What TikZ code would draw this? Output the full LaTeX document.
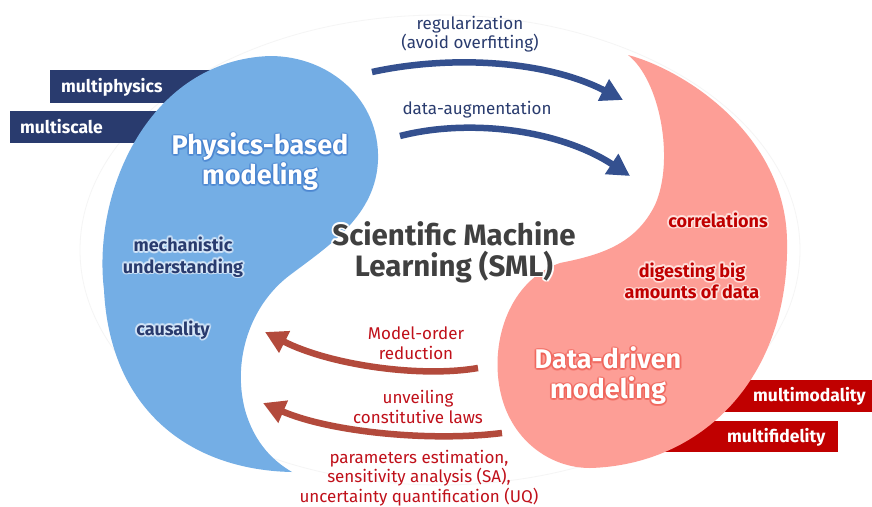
\documentclass[tikz,border=0pt]{standalone}
\usepackage{fontspec}
\setmainfont{Fira Sans}
\usetikzlibrary{arrows.meta,calc}
\definecolor{navy}{HTML}{293B6E}
\definecolor{blueshape}{HTML}{74AEE5}
\definecolor{redshape}{HTML}{FD9E96}
\definecolor{boxred}{HTML}{C00000}
\definecolor{arrblue}{HTML}{34508F}
\definecolor{arrred}{HTML}{B34A3C}
\definecolor{txtred}{HTML}{C0101A}
\definecolor{titlegray}{HTML}{404040}
\definecolor{glowblue}{HTML}{3F7ACC}
\definecolor{glowred}{HTML}{EE5A50}
\definecolor{glowpaleblue}{HTML}{DDEBFA}
\definecolor{glowpalered}{HTML}{FFE6E2}
\newcommand{\glowtext}[6]{% #1 style, #2 coord, #3 glow colour, #4 opacity, #5 name, #6 text
  \foreach \gang in {0,30,...,330}{
    \node[#1, text=#3, text opacity=#4] at ($#2+(\gang:1.8)$) {#6};
  }
  \node[#1] (#5) at #2 {#6};
}
\begin{document}
\begin{tikzpicture}[x=1pt,y=-1pt,
  bigtitle/.style={font=\fontsize{27}{30}\selectfont\bfseries, align=center, text=white, inner sep=0},
  sml/.style={font=\fontsize{29.5}{31}\selectfont\bfseries, align=center, text=titlegray, inner sep=0},
  midlbl/.style={font=\fontsize{18}{21.5}\selectfont\bfseries, align=center, inner sep=0},
  arrlbl/.style={font=\fontsize{17}{19.5}\selectfont, align=center, inner sep=0},
  tagtext/.style={font=\fontsize{17.5}{20}\selectfont\bfseries, text=white, anchor=west, inner sep=0},
  bluearrow/.style={draw=arrblue, line width=6.5pt, -{Triangle[length=22pt,width=23pt]}},
  redarrow/.style={draw=arrred, line width=6.5pt, -{Triangle[length=22pt,width=23pt]}}
]
\useasboundingbox (0,0) rectangle (872,506);
\fill[white] (0,0) rectangle (872,506);

% faint background outline
\draw[black!4, line width=0.8pt] (440,250) ellipse [x radius=360pt, y radius=235pt];

% tag boxes (behind the shapes)
\fill[navy] (50,70) rectangle (250,103);
\fill[navy] (10,111) rectangle (200,143);
\fill[boxred] (700,380) rectangle (872,412);
\fill[boxred] (640,421) rectangle (838,452);

% physics-based shape
\fill[blueshape] (270,56)
  .. controls (330,56) and (380,100) .. (378,160)
  .. controls (376,215) and (330,245) .. (290,275)
  .. controls (250,305) and (232,360) .. (245,410)
  .. controls (255,445) and (275,462) .. (292,472)
  .. controls (190,470) and (110,410) .. (104,290)
  .. controls (92,190) and (150,60) .. (270,56) -- cycle;

% data-driven shape
\fill[redshape] (628,55)
  .. controls (660,80) and (675,160) .. (655,205)
  .. controls (635,245) and (600,255) .. (560,263)
  .. controls (510,280) and (490,340) .. (500,390)
  .. controls (510,440) and (550,468) .. (590,468)
  .. controls (700,465) and (790,380) .. (787,240)
  .. controls (785,135) and (685,70) .. (628,55) -- cycle;

% tag texts
\node[tagtext] (mphys) at (61,87) {multiphysics};
\node[tagtext] (mscale) at (20,127) {multiscale};
\node[tagtext] (mmodal) at (753,396) {multimodality};
\node[tagtext] (mfid) at (727,437) {multifidelity};

% titles
\glowtext{bigtitle}{(260,162)}{glowblue}{0.25}{pbm}{Physics-based\\modeling}
\glowtext{bigtitle}{(608,376)}{glowred}{0.3}{ddm}{Data-driven\\modeling}
\glowtext{sml}{(454,252)}{white}{0.8}{sml}{Scientific Machine\\Learning (SML)}

% labels in the shapes
\glowtext{midlbl, text=navy}{(183,257)}{glowpaleblue}{0.5}{mech}{mechanistic\\understanding}
\glowtext{midlbl, text=navy}{(173,330)}{glowpaleblue}{0.5}{caus}{causality}
\glowtext{midlbl, text=boxred}{(718,220)}{glowpalered}{0.6}{corr}{correlations}
\glowtext{midlbl, text=boxred}{(692,281)}{glowpalered}{0.6}{dig}{digesting big\\amounts of data}

% arrow labels
\node[arrlbl, text=navy] (reg) at (470,34) {regularization\\(avoid overfitting)};
\node[arrlbl, text=navy] (aug) at (477,110) {data-augmentation};
\node[arrlbl, text=txtred] (mor) at (416,343) {Model-order\\reduction};
\node[arrlbl, text=txtred] (unv) at (418,407) {unveiling\\constitutive laws};
\node[arrlbl, text=txtred] (par) at (419,478) {parameters estimation,\\sensitivity analysis (SA),\\uncertainty quantification (UQ)};

% arrow end points
\coordinate (b1s) at (372,72);  \coordinate (b1e) at (623,100);
\coordinate (b2s) at (400,136); \coordinate (b2e) at (630,176);
\coordinate (r1s) at (478,368); \coordinate (r1e) at (265,332);
\coordinate (r2s) at (502,433); \coordinate (r2e) at (263,403);

\draw[bluearrow] (b1s) .. controls (450,55) and (545,60) .. (b1e);
\draw[bluearrow] (b2s) .. controls (470,118) and (560,130) .. (b2e);
\draw[redarrow] (r1s) .. controls (420,378) and (330,365) .. (r1e);
\draw[redarrow] (r2s) .. controls (430,442) and (330,432) .. (r2e);
\end{tikzpicture}
\end{document}
